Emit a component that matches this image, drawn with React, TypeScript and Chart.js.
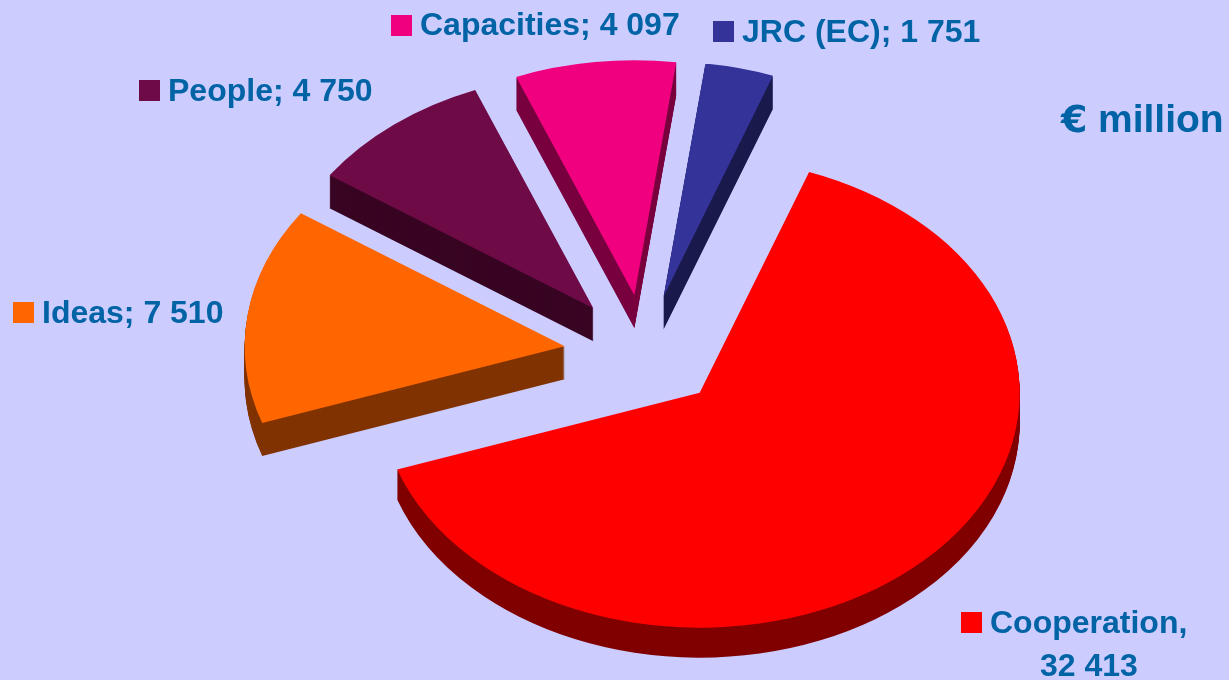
import React, { useEffect, useRef } from "react";
import { Chart, registerables } from "chart.js";

Chart.register(...registerables);

const categories = ["Cooperation", "Ideas", "People", "Capacities", "JRC (EC)"];
const values = [32413, 7510, 4750, 4097, 1751];
const topColors = ["#FF0000", "#FF6600", "#6E0A46", "#F0007F", "#333399"];
const sideColors = ["#800000", "#803300", "#380523", "#79003F", "#1A1A4D"];
const unitLabel = "€ million";

const BG = "#CCCCFF";
const TEXT = "#0063A5";
const FONT = "'Liberation Sans', Arial, sans-serif";
const CX = 645;
const CY = 352;
const RADIUS = 320;
const TILT = 0.734;
const EXPLODE = 78;

// small per-slice placement corrections and extrusion depth
const nudge = [
  { x: 0, y: 0, depth: 30 },
  { x: -3, y: 2, depth: 33 },
  { x: -3, y: 1, depth: 33 },
  { x: -1, y: 0, depth: 33 },
  { x: 0, y: 0, depth: 33 },
];

const fmt = (v: number) => String(v).replace(/\B(?=(\d{3})+$)/g, " ");

// legend placement, by category index
const legendPos = [
  { sx: 961, sy: 612, tx: 990, ty: 633 },
  { sx: 13, sy: 302, tx: 42, ty: 323 },
  { sx: 139, sy: 80, tx: 168, ty: 101 },
  { sx: 391, sy: 15, tx: 420, ty: 35 },
  { sx: 713, sy: 21, tx: 742, ty: 42 },
];

const pie3d = {
  id: "pie3d",
  beforeDatasetsDraw(chart: any) {
    const ctx = chart.ctx;
    const arcs = chart.getDatasetMeta(0).data;
    const drawArc = (el: any, i: number, dy: number, color: string) => {
      const saved = el.options;
      el.options = Object.assign({}, saved, { backgroundColor: color, borderColor: color, borderWidth: 0 });
      const mid = (el.startAngle + el.endAngle) / 2;
      ctx.save();
      ctx.translate(CX + nudge[i].x, CY + nudge[i].y + dy);
      ctx.scale(1, TILT);
      ctx.translate(Math.cos(mid) * EXPLODE - el.x, Math.sin(mid) * EXPLODE - el.y);
      el.draw(ctx);
      ctx.restore();
      el.options = saved;
    };
    arcs.forEach((el: any, i: number) => {
      for (let dy = nudge[i].depth; dy >= 1; dy--) drawArc(el, i, dy, sideColors[i]);
    });
    arcs.forEach((el: any, i: number) => drawArc(el, i, 0, topColors[i]));
    return false;
  },
  afterDraw(chart: any) {
    const ctx = chart.ctx;
    ctx.save();
    ctx.textBaseline = "alphabetic";
    ctx.textAlign = "left";
    ctx.font = `bold 32px ${FONT}`;
    categories.forEach((name, i) => {
      const p = legendPos[i];
      ctx.fillStyle = topColors[i];
      ctx.fillRect(p.sx, p.sy, 21, 21);
      ctx.fillStyle = TEXT;
      if (i === 0) {
        ctx.fillText(`${name},`, p.tx, p.ty);
        ctx.fillText(fmt(values[i]), 1040, 676);
      } else {
        ctx.fillText(`${name}; ${fmt(values[i])}`, p.tx, p.ty);
      }
    });
    ctx.fillStyle = TEXT;
    const [euro, word] = unitLabel.split(" ");
    ctx.font = `bold 38px 'DejaVu Sans', ${FONT}`;
    ctx.fillText(euro, 1061, 132);
    ctx.font = `bold 39px ${FONT}`;
    ctx.fillText(word, 1098, 132);
    ctx.restore();
  },
};

export default function App() {
  const ref = useRef<HTMLCanvasElement>(null);
  useEffect(() => {
    const chart = new Chart(ref.current as HTMLCanvasElement, {
      type: "pie",
      data: {
        labels: categories,
        datasets: [{ data: values, backgroundColor: topColors, borderWidth: 0 }],
      },
      options: {
        responsive: false,
        animation: false,
        rotation: 20,
        radius: RADIUS,
        layout: { padding: 0 },
        plugins: { legend: { display: false }, tooltip: { enabled: false }, title: { display: false } },
      },
      plugins: [pie3d],
    } as any);
    return () => chart.destroy();
  }, []);
  return (
    <div style={{ position: "fixed", left: 0, top: 0, width: 1229, height: 680, background: BG, overflow: "hidden" }}>
      <canvas ref={ref} width={1229} height={680} style={{ display: "block" }} />
    </div>
  );
}
